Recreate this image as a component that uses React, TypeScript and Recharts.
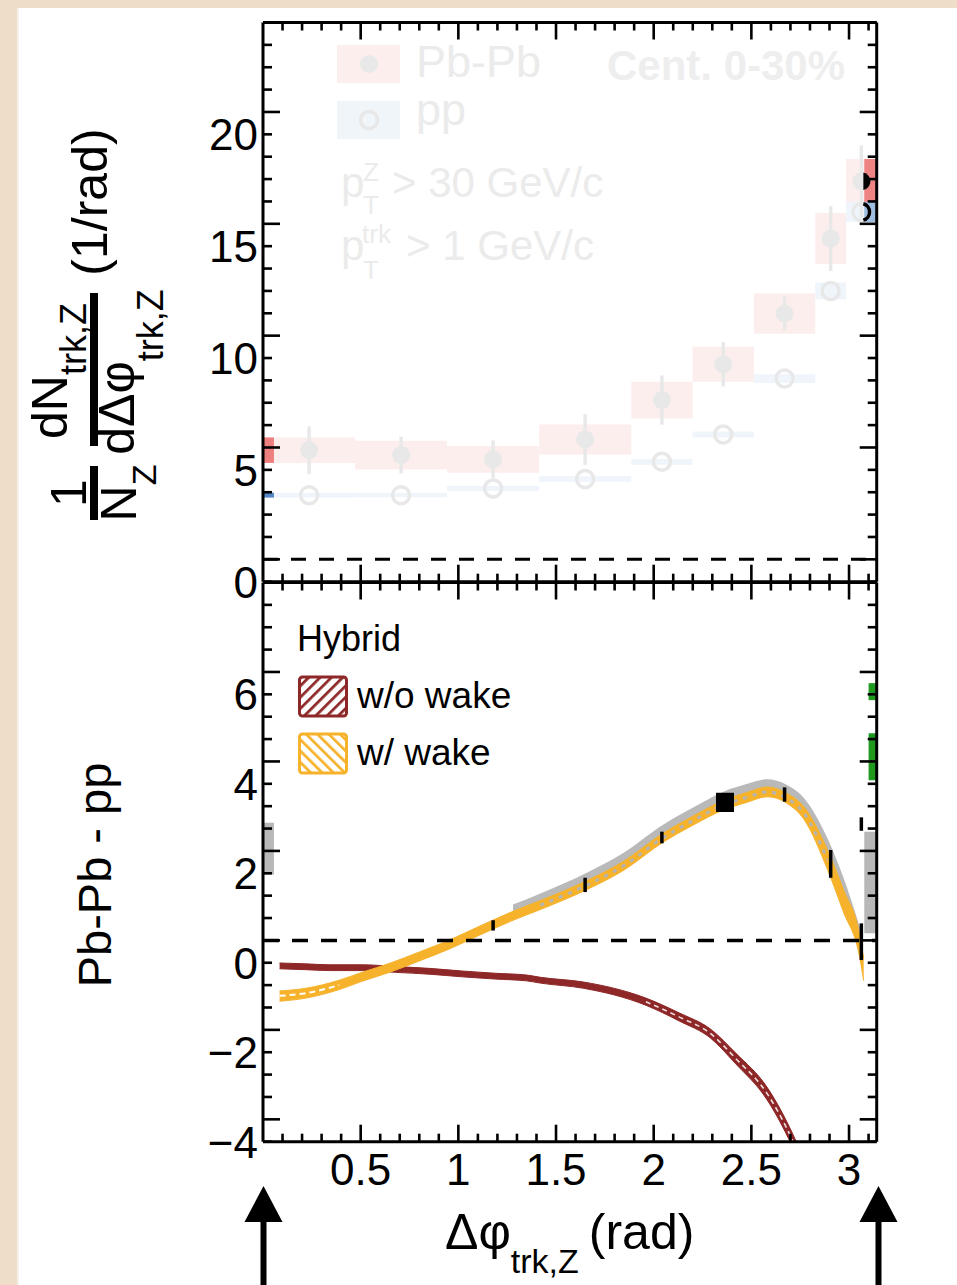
import React from 'react';
import {
  ComposedChart,
  XAxis,
  YAxis,
  Scatter,
  ErrorBar,
  Area,
  Line,
  ReferenceArea,
  ReferenceLine,
} from 'recharts';

const FONT = '"Liberation Sans", Arial, Helvetica, sans-serif';
const PI = 3.1416;

// axis ticks (x every 0.1 rad, labels every 0.5)
const xTicks = [0.1, 0.2, 0.3, 0.4, 0.5, 0.6, 0.7, 0.8, 0.9, 1.0, 1.1, 1.2, 1.3, 1.4, 1.5, 1.6, 1.7, 1.8, 1.9, 2.0, 2.1, 2.2, 2.3, 2.4, 2.5, 2.6, 2.7, 2.8, 2.9, 3.0, 3.1];
const xLabels = [0.5, 1, 1.5, 2, 2.5, 3];

const topTicks = [0, 1, 2, 3, 4, 5, 6, 7, 8, 9, 10, 11, 12, 13, 14, 15, 16, 17, 18, 19, 20, 21, 22, 23, 24, 25];
const topMajor = [1, 6, 11, 16, 21];
const topLabels = [0, 5, 10, 15, 20];

const botTicks = [-4, -3.5, -3, -2.5, -2, -1.5, -1, -0.5, 0, 0.5, 1, 1.5, 2, 2.5, 3, 3.5, 4, 4.5, 5, 5.5, 6, 6.5, 7, 7.5, 8, 8.5];
const botMajor = [-3.5, -1.5, 0.5, 2.5, 4.5, 6.5];
const botLabels = [-4, -2, 0, 2, 4, 6];

// upper panel: per-Z yields in bins of dphi
const binEdges = [0, 0.471, 0.942, 1.414, 1.885, 2.199, 2.513, 2.827, 2.985, 3.1416];
const binCenters = [0.236, 0.707, 1.178, 1.649, 2.042, 2.356, 2.67, 2.906, 3.063];
const pbpbYield = [5.88, 5.66, 5.47, 6.36, 8.12, 9.72, 11.99, 15.34, 17.9];
const pbpbStat = [1.07, 0.82, 0.85, 1.13, 1.1, 0.99, 0.76, 1.45, 1.6];
const pbpbSys = [0.57, 0.64, 0.6, 0.67, 0.82, 0.78, 0.9, 1.14, 1.0];
const ppYield = [3.87, 3.87, 4.17, 4.59, 5.36, 6.58, 9.08, 13.0, 16.53];
const ppSys = [0.11, 0.1, 0.11, 0.12, 0.13, 0.13, 0.2, 0.38, 0.45];

// only thin strips at both edges are shown at full colour
const revealLeft = 0.056;
const revealRight = 3.078;

// lower panel: Hybrid model bands
const wakeX = [0.085, 0.22, 0.39, 0.51, 0.65, 0.8, 0.955, 1.11, 1.28, 1.42, 1.66, 1.84, 2.05, 2.19, 2.36, 2.48, 2.58, 2.68, 2.77, 2.89, 2.97, 3.055, 3.075];
const wakeMid = [-0.74, -0.68, -0.5, -0.31, -0.11, 0.135, 0.41, 0.72, 1.05, 1.29, 1.74, 2.15, 2.8, 3.15, 3.53, 3.7, 3.82, 3.68, 3.34, 2.3, 1.4, 0.36, -0.15];
const wakeLo = [-0.86, -0.79, -0.6, -0.41, -0.21, 0.04, 0.31, 0.62, 0.95, 1.19, 1.64, 2.05, 2.7, 3.05, 3.42, 3.59, 3.71, 3.57, 3.2, 2.08, 1.15, 0.11, -0.4];
const wakeHi = [-0.63, -0.57, -0.39, -0.21, -0.01, 0.24, 0.51, 0.82, 1.15, 1.39, 1.84, 2.25, 2.9, 3.25, 3.63, 3.81, 3.93, 3.79, 3.48, 2.52, 1.65, 0.61, 0.1];

const grayX = [1.28, 1.42, 1.66, 1.84, 2.05, 2.19, 2.36, 2.48, 2.58, 2.68, 2.77, 2.89, 2.97, 3.055];
const grayLo = [0.98, 1.22, 1.68, 2.08, 2.72, 3.07, 3.45, 3.63, 3.76, 3.6, 3.24, 2.18, 1.28, 0.26];
const grayHi = [1.3, 1.55, 2.02, 2.44, 3.09, 3.44, 3.83, 4.0, 4.1, 3.98, 3.68, 2.78, 1.92, 0.8];

const noWakeX = [0.085, 0.22, 0.34, 0.51, 0.68, 0.85, 1.02, 1.19, 1.35, 1.42, 1.64, 1.96, 2.13, 2.29, 2.42, 2.58, 2.71, 2.76];
const noWakeMid = [-0.07, -0.09, -0.11, -0.11, -0.15, -0.19, -0.25, -0.3, -0.34, -0.39, -0.5, -0.87, -1.21, -1.58, -2.14, -2.92, -3.96, -4.45];
const noWakeLo = [-0.135, -0.155, -0.175, -0.175, -0.215, -0.255, -0.315, -0.365, -0.405, -0.455, -0.57, -0.95, -1.3, -1.68, -2.26, -3.06, -4.11, -4.6];
const noWakeHi = [-0.005, -0.025, -0.045, -0.045, -0.085, -0.125, -0.185, -0.235, -0.275, -0.325, -0.43, -0.79, -1.12, -1.48, -2.02, -2.78, -3.81, -4.3];

// pieces of the difference points that stick out of the bands
const diffSegX = [1.178, 1.649, 2.042, 2.67, 2.906, 3.063, 3.063];
const diffSegLo = [0.72, 1.58, 2.67, 3.6, 1.9, 0.06, 2.95];
const diffSegHi = [0.95, 1.9, 2.93, 3.92, 2.52, 0.88, 3.25];
const diffBlockX = 2.365;
const diffBlock = [3.37, 3.8];

// edge boxes of the difference (left bin, right bin)
const edgeBoxLo = [1.97, 0.66];
const edgeBoxHi = [3.13, 2.93];
const greenLo = [5.87, 4.08];
const greenHi = [6.25, 5.13];

const ORANGE = '#f6b22b';
const DARKRED = '#8e2727';
const FADE = '#e8e8e8';

const near = (list: number[], v: number) => list.some((m) => Math.abs(m - v) < 1e-6);
const fmt = (v: number) => (v < 0 ? `\u2212${Math.abs(v)}` : `${v}`);

function yTick(side: 'left' | 'right', major: number[], labels: number[]) {
  return (props: any) => {
    const { x, y, payload } = props;
    const v = payload.value as number;
    const len = near(major, v) ? 17 : 9;
    const dir = side === 'left' ? 1 : -1;
    return (
      <g>
        <line x1={x} y1={y} x2={x + dir * len} y2={y} stroke="#000" strokeWidth={2.6} />
        {side === 'left' && near(labels, v) && (
          <text x={x - 5} y={y} dy="0.36em" textAnchor="end" fontSize={44} fontFamily={FONT} fill="#000">
            {fmt(v)}
          </text>
        )}
      </g>
    );
  };
}

function xTick(side: 'top' | 'bottom', showLabels: boolean) {
  return (props: any) => {
    const { x, y, payload } = props;
    const v = payload.value as number;
    const len = near(xLabels, v) ? 17 : 8;
    const dir = side === 'bottom' ? -1 : 1;
    return (
      <g>
        <line x1={x} y1={y} x2={x} y2={y + dir * len} stroke="#000" strokeWidth={2.6} />
        {showLabels && near(xLabels, v) && (
          <text x={x} y={y + 43} textAnchor="middle" fontSize={44} fontFamily={FONT} fill="#000">
            {v}
          </text>
        )}
      </g>
    );
  };
}

// four framing axes: ticks point inwards on every side, like the original
function frameAxes(domain: [number, number], ticks: number[], major: number[], labels: number[], xLabelsOn: boolean) {
  const line = { stroke: '#000', strokeWidth: 3 };
  return [
    <XAxis key="xb" xAxisId={0} dataKey="x" type="number" domain={[0, PI]} allowDataOverflow ticks={xTicks} interval={0}
      orientation="bottom" height={1} tickSize={0} tickMargin={0} tickLine={false} axisLine={line} tick={xTick('bottom', xLabelsOn)} />,
    <XAxis key="xt" xAxisId="top" dataKey="x" type="number" domain={[0, PI]} allowDataOverflow ticks={xTicks} interval={0}
      orientation="top" height={1} tickSize={0} tickMargin={0} tickLine={false} axisLine={line} tick={xTick('top', false)} />,
    <YAxis key="yl" yAxisId={0} type="number" domain={domain} allowDataOverflow ticks={ticks} interval={0}
      orientation="left" width={263} tickSize={0} tickMargin={0} tickLine={false} axisLine={line} tick={yTick('left', major, labels)} />,
    <YAxis key="yr" yAxisId="right" type="number" domain={domain} allowDataOverflow ticks={ticks} interval={0}
      orientation="right" width={1} tickSize={0} tickMargin={0} tickLine={false} axisLine={line} tick={yTick('right', major, labels)} />,
  ];
}

const pbpbPoints = binCenters.map((x, i) => ({ x, y: pbpbYield[i], err: pbpbStat[i] }));
const ppPoints = binCenters.map((x, i) => ({ x, y: ppYield[i] }));
const lastPbPb = [pbpbPoints[8]];
const lastPp = [ppPoints[8]];

const wakeBand = wakeX.map((x, i) => ({ x, range: [wakeLo[i], wakeHi[i]] }));
const wakeLine = wakeX.map((x, i) => ({ x, y: wakeMid[i] }));
const grayBand = grayX.map((x, i) => ({ x, range: [grayLo[i], grayHi[i]] }));
const noWakeBand = noWakeX.map((x, i) => ({ x, range: [noWakeLo[i], noWakeHi[i]] }));
const noWakeLine = noWakeX.map((x, i) => ({ x, y: noWakeMid[i] }));

// plot area: x 263 -> 876.7, upper y 22.5 -> 581.7, lower y 582.5 -> 1141.7
function TopPanel() {
  return (
    <ComposedChart width={957} height={640} margin={{ top: 21.5, right: 79.3, bottom: 57.3, left: 0 }}>
      {binCenters.map((_, i) => (
        <ReferenceArea key={`pb${i}`} x1={binEdges[i]} x2={binEdges[i + 1]} y1={pbpbYield[i] - pbpbSys[i]} y2={pbpbYield[i] + pbpbSys[i]}
          fill="#fdeeee" fillOpacity={1} stroke="none" />
      ))}
      {binCenters.map((_, i) => (
        <ReferenceArea key={`pp${i}`} x1={binEdges[i]} x2={binEdges[i + 1]} y1={ppYield[i] - ppSys[i]} y2={ppYield[i] + ppSys[i]}
          fill="#eff5fb" fillOpacity={1} stroke="none" />
      ))}
      <ReferenceArea x1={0} x2={revealLeft} y1={pbpbYield[0] - pbpbSys[0]} y2={pbpbYield[0] + pbpbSys[0]} fill="#ee7f7f" fillOpacity={1} stroke="none" />
      <ReferenceArea x1={0} x2={revealLeft} y1={ppYield[0] - ppSys[0]} y2={ppYield[0] + ppSys[0]} fill="#5686c4" fillOpacity={1} stroke="none" />
      <ReferenceArea x1={revealRight} x2={binEdges[9]} y1={pbpbYield[8] - pbpbSys[8]} y2={pbpbYield[8] + pbpbSys[8]} fill="#ee8383" fillOpacity={1} stroke="none" />
      <ReferenceArea x1={revealRight} x2={binEdges[9]} y1={ppYield[8] - ppSys[8]} y2={ppYield[8] + ppSys[8]} fill="#9fbfe2" fillOpacity={1} stroke="none" />
      <ReferenceLine y={1} stroke="#000" strokeWidth={3} strokeDasharray="15 13" />
      <Scatter data={ppPoints} dataKey="y" isAnimationActive={false}
        shape={(p: any) => <circle cx={p.cx} cy={p.cy} r={8.5} fill="none" stroke={FADE} strokeWidth={3.5} />} />
      <Scatter data={pbpbPoints} dataKey="y" isAnimationActive={false}
        shape={(p: any) => <circle cx={p.cx} cy={p.cy} r={9} fill={FADE} />}>
        <ErrorBar dataKey="err" direction="y" width={0} stroke={FADE} strokeWidth={3.5} />
      </Scatter>
      <Scatter data={lastPbPb} dataKey="y" isAnimationActive={false}
        shape={(p: any) => <path d={`M${p.cx + 2},${p.cy - 8.8} A9,9 0 0 1 ${p.cx + 2},${p.cy + 8.8} Z`} fill="#000" />} />
      <Scatter data={lastPp} dataKey="y" isAnimationActive={false}
        shape={(p: any) => <path d={`M${p.cx + 2},${p.cy - 8.2} A8.5,8.5 0 0 1 ${p.cx + 2},${p.cy + 8.2}`} fill="none" stroke="#000" strokeWidth={3.5} />} />
      {frameAxes([0, 25], topTicks, topMajor, topLabels, false)}
    </ComposedChart>
  );
}

function BottomPanel() {
  return (
    <ComposedChart width={957} height={725} margin={{ top: 21.5, right: 79.3, bottom: 142.3, left: 0 }}>
      <ReferenceArea x1={0} x2={revealLeft} y1={edgeBoxLo[0]} y2={edgeBoxHi[0]} fill="#b8b8b8" fillOpacity={1} stroke="none" />
      <ReferenceArea x1={revealRight} x2={PI} y1={edgeBoxLo[1]} y2={edgeBoxHi[1]} fill="#b8b8b8" fillOpacity={1} stroke="none" />
      {greenLo.map((lo, i) => (
        <ReferenceArea key={`g${i}`} x1={3.1} x2={PI} y1={lo} y2={greenHi[i]} fill="#1f9a1f" fillOpacity={1} stroke="none" />
      ))}
      <Area data={grayBand} dataKey="range" type="monotone" fill="#b9b9b9" fillOpacity={1} stroke="none" isAnimationActive={false} />
      <Area data={noWakeBand} dataKey="range" type="monotone" fill={DARKRED} fillOpacity={1} stroke={DARKRED} strokeWidth={1} isAnimationActive={false} />
      <Area data={wakeBand} dataKey="range" type="monotone" fill={ORANGE} fillOpacity={1} stroke={ORANGE} strokeWidth={1} isAnimationActive={false} />
      <Line data={noWakeLine.slice(11)} dataKey="y" type="monotone" stroke="#ffffff" strokeOpacity={0.85} strokeWidth={1.6}
        strokeDasharray="5 4" dot={false} isAnimationActive={false} />
      <Line data={wakeLine.slice(0, 3)} dataKey="y" type="monotone" stroke="#ffffff" strokeWidth={2}
        strokeDasharray="6 4" dot={false} isAnimationActive={false} />
      <Line data={wakeLine.slice(9, 20)} dataKey="y" type="monotone" stroke="#b4b4b4" strokeWidth={3}
        strokeDasharray="4 6" dot={false} isAnimationActive={false} />
      <ReferenceLine y={0.5} stroke="#000" strokeWidth={3.5} strokeDasharray="16 13" />
      {diffSegX.map((x, i) => (
        <ReferenceLine key={`s${i}`} segment={[{ x, y: diffSegLo[i] }, { x, y: diffSegHi[i] }]} stroke="#000" strokeWidth={3.5} />
      ))}
      <ReferenceLine segment={[{ x: diffBlockX, y: diffBlock[0] }, { x: diffBlockX, y: diffBlock[1] }]} stroke="#000" strokeWidth={18} />
      {frameAxes([-4, 8.5], botTicks, botMajor, botLabels, true)}
    </ComposedChart>
  );
}

function RotText({ x, y, size, anchor = 'start', children }: any) {
  return (
    <text transform={`translate(${x},${y}) rotate(-90)`} fontSize={size} fontFamily={FONT} textAnchor={anchor} fill="#000">
      {children}
    </text>
  );
}

function Arrow({ x }: { x: number }) {
  return (
    <g fill="#000">
      <polygon points={`${x},1186 ${x - 19},1222 ${x + 19},1222`} />
      <rect x={x - 3} y={1220} width={6} height={65} />
    </g>
  );
}

function Overlay() {
  const faint = '#ebebeb';
  return (
    <svg width={957} height={1285} style={{ position: 'absolute', left: 0, top: 0, pointerEvents: 'none' }}>
      <defs>
        <pattern id="hatchRed" width="8" height="8" patternUnits="userSpaceOnUse" patternTransform="rotate(45)">
          <rect width="8" height="8" fill="#fff" />
          <line x1="0" y1="0" x2="0" y2="8" stroke={DARKRED} strokeWidth="5.5" />
        </pattern>
        <pattern id="hatchOrange" width="8" height="8" patternUnits="userSpaceOnUse" patternTransform="rotate(-45)">
          <rect width="8" height="8" fill="#fff" />
          <line x1="0" y1="0" x2="0" y2="8" stroke={ORANGE} strokeWidth="5.5" />
        </pattern>
      </defs>

      {/* faded legend of the upper panel */}
      <rect x={337} y={45} width={63} height={38} fill="#fdeeee" />
      <circle cx={369} cy={64} r={9} fill={FADE} />
      <text x={416} y={77} fontSize={45} fontFamily={FONT} fill={faint}>Pb-Pb</text>
      <rect x={337} y={101} width={63} height={38} fill="#f0f5fa" />
      <circle cx={369} cy={120} r={8.5} fill="none" stroke={FADE} strokeWidth={3.5} />
      <text x={416} y={125} fontSize={45} fontFamily={FONT} fill={faint}>pp</text>
      <text x={607} y={80} fontSize={42} fontWeight="bold" fontFamily={FONT} fill="#eeeeee">Cent. 0-30%</text>
      <text x={341} y={197} fontSize={42} fontFamily={FONT} fill={faint}>p</text>
      <text x={363} y={181} fontSize={26} fontFamily={FONT} fill={faint}>Z</text>
      <text x={363} y={214} fontSize={26} fontFamily={FONT} fill={faint}>T</text>
      <text x={392} y={197} fontSize={42} fontFamily={FONT} fill={faint}>&gt; 30 GeV/c</text>
      <text x={341} y={260} fontSize={42} fontFamily={FONT} fill={faint}>p</text>
      <text x={362} y={243} fontSize={26} fontFamily={FONT} fill={faint}>trk</text>
      <text x={363} y={279} fontSize={26} fontFamily={FONT} fill={faint}>T</text>
      <text x={406} y={260} fontSize={42} fontFamily={FONT} fill={faint}>&gt; 1 GeV/c</text>

      {/* legend of the lower panel */}
      <text x={297} y={651} fontSize={36} fontFamily={FONT} fill="#000">Hybrid</text>
      <rect x={299.5} y={677} width={47} height={39} rx={3} fill="url(#hatchRed)" stroke={DARKRED} strokeWidth={3} />
      <text x={357} y={708} fontSize={37} fontFamily={FONT} fill="#000">w/o wake</text>
      <rect x={299.5} y={734} width={47} height={39} rx={3} fill="url(#hatchOrange)" stroke={ORANGE} strokeWidth={3} />
      <text x={357} y={765} fontSize={37} fontFamily={FONT} fill="#000">w/ wake</text>

      {/* y title of the upper panel */}
      <RotText x={106.5} y={202} size={50} anchor="middle">(1/rad)</RotText>
      <text transform="translate(67,371) rotate(-90)" fontSize={50} fontFamily={FONT} textAnchor="middle" fill="#000">
        dN<tspan dy={19} fontSize={36}>trk,Z</tspan>
      </text>
      <rect x={90} y={293} width={8} height={153} fill="#000" />
      <text transform="translate(134,372) rotate(-90)" fontSize={50} fontFamily={FONT} textAnchor="middle" fill="#000">
        dΔφ<tspan dy={29} fontSize={36}>trk,Z</tspan>
      </text>
      <RotText x={86} y={493} size={50} anchor="middle">1</RotText>
      <rect x={90} y={466} width={8} height={54} fill="#000" />
      <text transform="translate(136,493) rotate(-90)" fontSize={50} fontFamily={FONT} textAnchor="middle" fill="#000">
        N<tspan dy={20} fontSize={34}>Z</tspan>
      </text>

      {/* y title of the lower panel */}
      <RotText x={111} y={875} size={47} anchor="middle">Pb-Pb - pp</RotText>

      {/* x title */}
      <text x={445} y={1249} fontSize={50} fontFamily={FONT} fill="#000">
        Δφ<tspan dy={24} fontSize={34}>trk,Z</tspan>
        <tspan dy={-24} dx={10} fontSize={50}>(rad)</tspan>
      </text>

      <Arrow x={263.5} />
      <Arrow x={878.5} />
    </svg>
  );
}

export default function App() {
  return (
    <div style={{ position: 'absolute', left: 0, top: 0, width: 957, height: 1285, background: '#eedec8', overflow: 'hidden' }}>
      <div style={{ position: 'absolute', left: 17, top: 8, width: 940, height: 1277, background: '#ffffff', borderLeft: '2px solid #f5f1ea' }} />
      <div style={{ position: 'absolute', left: 0, top: 0 }}>
        <TopPanel />
      </div>
      <div style={{ position: 'absolute', left: 0, top: 560 }}>
        <BottomPanel />
      </div>
      <Overlay />
    </div>
  );
}
